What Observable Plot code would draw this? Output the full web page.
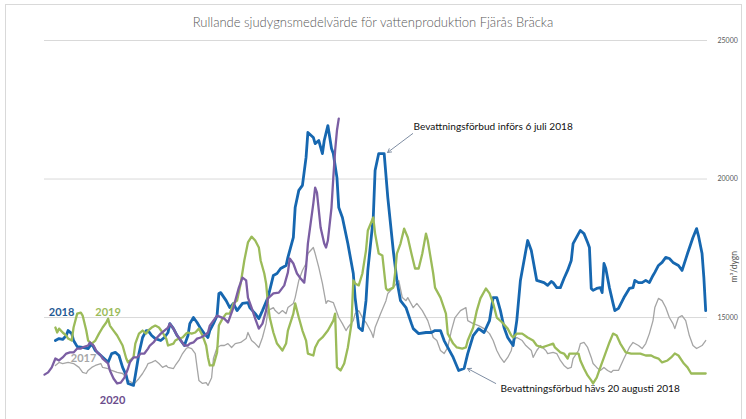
<!DOCTYPE html>
<html><head><meta charset="utf-8">
<script src="https://cdn.jsdelivr.net/npm/d3@7"></script>
<script src="https://cdn.jsdelivr.net/npm/@observablehq/plot@0.6"></script>
<style>
body{margin:0;background:#fff;font-family:Lato,"Open Sans",sans-serif;}
#wrap{position:relative;width:746px;height:419px;overflow:hidden;background:#fff;}
#frame{position:absolute;left:5px;top:4px;width:737px;height:430px;border:1px solid #d9d9d9;box-sizing:border-box;pointer-events:none;}
#title{height:30px;box-sizing:border-box;padding-top:13px;line-height:18px;font-size:13px;font-weight:300;color:#595959;text-align:center;}
</style></head><body>
<div id="wrap"><div id="title">Rullande sjudygnsmedelvärde för vattenproduktion Fjärås Bräcka</div><div id="chart"></div><div id="frame"></div></div>
<script>
// Day of year and rolling 7-day mean (m³/dygn)
const dagar2017 = [7,9,11,14,17,20,22,24,25,27,29,32,33,36,38,41,44,46,47,50,51,53,55,57,58,60,62,64,66,68,69,72,73,75,77,79,80,82,84,85,86,88,90,91,93,94,96,98,100,102,104,106,109,112,113,115,117,119,121,123,124,127,128,130,132,134,135,138,139,141,143,145,146,149,150,152,154,156,157,160,161,163,165,167,168,171,172,174,176,178,181,182,183,186,189,190,193,196,198,200,201,204,206,209,212,215,217,219,221,223,225,227,230,233,234,237,240,243,246,248,250,252,254,256,258,259,261,264,266,269,270,272,274,277,278,281,283,285,287,289,291,292,295,296,298,300,302,303,305,307,309,311,313,314,317,320,323,325,328,330,332,334,336,337,339,341,343,345,347,348,350,352,354,356,358,360,361,363,365];
const varden2017 = [13270,13380,13340,13380,13340,13200,13020,12980,13090,13200,13270,13340,13200,13160,13090,13020,12980,12830,12730,12620,12650,12800,12980,13200,13340,13380,13450,13340,13200,13270,13200,13160,13270,13450,13700,13880,13920,13880,13700,13200,12730,12620,12650,12550,12830,13520,13920,13990,13990,14060,13920,14060,14100,14240,14460,14170,14060,13920,14280,14780,15250,15360,15250,15140,15250,15140,15360,15510,15720,16340,16700,16950,17310,17530,17310,16810,16230,15510,15610,15540,15360,15000,14780,14530,14640,14890,15140,15250,15000,14820,14460,14280,14640,15140,15610,15870,16080,16340,15720,15610,15720,15360,15510,15250,14890,14280,14170,13810,13700,13920,14530,15000,15250,15360,14890,14780,14710,14600,14420,14170,13810,13560,13380,13560,13810,14170,14280,14170,13990,13810,13560,13810,13990,13810,13700,13740,13700,13450,13270,13160,13200,13520,13810,14060,14100,13920,13560,13340,13200,13090,13200,13090,13020,13090,13090,13520,13920,14100,13990,13880,14060,14420,14890,15360,15690,15610,15360,15000,14780,14600,15000,15070,14890,14350,13990,13880,13920,13990,14170];

const dagar2018 = [7,9,11,13,14,16,17,19,22,25,27,29,32,35,36,38,40,42,44,46,47,50,51,53,55,57,58,60,62,65,67,69,70,72,74,76,78,80,81,83,85,87,89,91,92,94,96,97,98,101,103,105,107,110,113,114,117,119,121,124,127,129,131,134,135,138,139,141,143,145,146,149,150,152,154,155,157,159,160,162,163,165,168,171,172,174,176,178,179,182,183,185,188,190,193,195,197,200,203,204,207,211,214,216,219,221,223,226,229,232,234,237,240,243,246,248,250,252,254,256,259,261,263,267,269,272,276,278,280,281,283,285,287,289,291,292,295,296,298,300,301,302,303,305,307,308,309,310,312,314,315,317,320,323,325,326,328,330,332,334,336,337,339,341,343,345,347,350,352,355,358,360,361,363,364,365];
const varden2018 = [14170,14240,14210,14350,14530,14420,14170,13950,13920,13880,14060,13810,13630,13450,13380,13700,13740,13630,13200,12910,12620,12550,12910,13700,14280,14530,14530,14350,14240,14170,14280,14460,14780,14600,14350,14170,13990,14350,14780,15000,14820,14600,14420,14280,14530,14780,15070,15870,15900,15610,15360,15510,15250,15510,15540,15360,15140,14960,15250,15720,16520,16590,16770,16880,17170,17890,18970,19590,19770,20780,21680,21500,21280,21390,20920,21390,21930,21100,20920,20050,18970,18610,17670,16590,15720,14640,14530,15610,16700,18610,20310,20920,20920,19330,17420,16340,15610,15360,14780,14600,14420,14460,14460,14530,14530,14170,13920,13560,13090,13160,13700,14350,14600,14460,14890,15720,15720,15250,14640,14280,13990,14890,16340,17780,17420,16340,16260,16160,16300,16260,16080,16080,16410,16700,17060,17670,18030,18140,18030,17710,17530,16050,15980,16050,16080,15900,16950,16770,16080,15510,15250,15330,15720,16050,16080,16340,16260,16260,16340,16260,16520,16630,16880,16990,17170,17130,16990,16880,16700,17310,17890,18210,17960,17310,16440,15250];

const dagar2019 = [7,8,9,11,13,14,16,17,19,21,22,24,25,27,29,31,33,35,36,37,39,41,44,46,47,50,51,53,55,57,58,60,62,64,66,68,69,72,73,75,77,79,80,82,84,86,88,90,91,92,94,96,97,99,101,103,105,107,109,111,113,115,117,119,120,122,123,124,125,127,129,132,134,135,138,139,141,143,145,146,149,150,152,154,157,160,161,162,164,166,168,170,171,172,174,176,178,179,182,183,185,187,189,190,193,194,195,197,199,201,203,205,207,209,211,212,215,216,219,222,223,226,228,231,233,234,237,239,241,244,246,248,250,253,256,258,259,261,264,267,270,272,275,278,281,282,285,287,289,290,292,295,296,298,300,302,303,305,307,309,312,314,316,318,321,324,326,329,332,335,337,339,341,344,346,348,350,353,355,357,360,362,365];
const varden2019 = [14640,14460,14600,14460,14350,14240,14170,14640,15140,15180,15070,14530,14170,14060,14170,14420,14640,14820,14960,14710,14530,14350,13990,13520,13380,13560,14060,14420,14530,14420,14530,14640,14710,14640,14460,14240,13990,14060,14170,14240,14280,14420,14460,14420,14460,14600,14350,13990,13560,13270,13270,13740,14710,14960,15140,15140,15510,15610,16230,17060,17710,17920,17780,17530,17060,16590,16230,15510,15000,14460,14060,13810,14060,14530,15140,15510,15000,14530,14170,13700,13630,13920,14170,14280,14530,14890,15140,13200,13090,13340,13920,14780,16340,16230,16160,16590,17420,18140,18610,18030,17310,17240,16050,15980,16080,16590,17310,17670,18210,17890,17310,16770,16770,17310,18030,17780,16590,16080,15720,15140,14420,14060,13920,13880,13920,14170,14640,15250,15690,16050,15870,15510,15000,14820,14600,14350,14280,14420,14420,14280,14170,13990,13920,13990,14060,13920,13740,13700,13520,13700,13700,13700,13450,13160,12910,12730,12620,12830,13200,13560,14100,14420,14350,14060,13740,13700,13700,13700,13630,13630,13560,13520,13380,13450,13560,13700,13630,13340,13200,12980,12980,12980,12980];

const dagar2020 = [1,3,5,7,9,11,13,15,17,19,21,22,25,26,28,30,32,33,36,37,39,41,43,45,47,48,50,52,54,56,58,59,61,63,65,67,69,70,72,74,76,78,80,81,83,85,87,89,91,92,94,96,100,102,105,108,110,112,113,115,117,119,121,123,124,127,130,133,135,136,138,140,142,144,145,146,149,150,151,153,155,156,157,159,160,161,162,163];
const varden2020 = [12940,13020,13200,13520,13450,13560,13700,13740,13740,13880,13880,13920,13990,14100,13990,13740,13630,13520,13340,13090,12800,12620,12650,12830,13160,13380,13560,13560,13700,13700,13880,13990,14100,14280,14420,14530,14640,14780,14600,14350,14170,13990,13990,14060,14100,14240,14280,14350,14460,14710,14890,15070,14960,14820,15360,16080,16440,16340,15720,15360,14960,14600,14780,15250,15690,15870,15900,16160,16630,17130,16950,16590,16410,16260,16810,17670,19120,19690,19510,18250,17670,17530,17780,18970,20050,21030,21750,22180];

const yTicks = [15000, 20000, 25000];
const etiketter = [
  {namn: "2018", dag: 10.4, varde: 15180, farg: "#1f5a94"},
  {namn: "2019", dag: 36, varde: 15180, farg: "#9bbb59"},
  {namn: "2020", dag: 38.5, varde: 12000, farg: "#6b4c8c"}
];
const etikett2017 = [{namn: "2017", dag: 22.5, varde: 13520, farg: "#a6a6a6"}];
const noter = [
  {text: "Bevattningsförbud införs 6 juli 2018", dag: 204.2, varde: 21895, pilX1: 203.7, pilY1: 21640, pilX2: 189.9, pilY2: 20960},
  {text: "Bevattningsförbud hävs 20 augusti 2018", dag: 252.1, varde: 12440, pilX1: 249.4, pilY1: 12620, pilX2: 233.9, pilY2: 13160}
];

const serier = [
  {dagar: dagar2017, varden: varden2017, color: "#a5a5a5", w: 1.3},
  {dagar: dagar2018, varden: varden2018, color: "#1667b0", w: 2.8},
  {dagar: dagar2019, varden: varden2019, color: "#9bbb59", w: 2.3},
  {dagar: dagar2020, varden: varden2020, color: "#7b5ea3", w: 2.3}
];

const chart = Plot.plot({
  width: 746, height: 389,
  marginLeft: 44, marginRight: 39, marginTop: 10, marginBottom: 5,
  x: {domain: [1, 366], axis: null},
  y: {domain: [11500, 25000], axis: null},
  color: {type: "identity"},
  style: {fontFamily: "Lato, 'Open Sans', sans-serif", background: "transparent", overflow: "visible"},
  marks: [
    Plot.ruleY(yTicks, {stroke: "#d9d9d9", strokeWidth: 1}),
    Plot.axisY(yTicks, {anchor: "right", tickSize: 0, tickPadding: 10, tickFormat: d => String(d), fontSize: 7, fill: "#595959", label: null}),
    Plot.text(["m³/dygn"], {frameAnchor: "right", y: [17400], dx: 27, rotate: -90, fontSize: 8.5, fill: "#595959"}),
    Plot.text(etikett2017, {x: "dag", y: "varde", text: "namn", fill: "farg", fontWeight: "bold", fontSize: 11}),
    ...serier.map(s => Plot.line(s.varden, {x: s.dagar, y: s.varden, stroke: s.color, strokeWidth: s.w, strokeLinejoin: "round"})),
    Plot.text(etiketter, {x: "dag", y: "varde", text: "namn", fill: "farg", fontWeight: "bold", fontSize: 11}),
    Plot.arrow(noter, {x1: "pilX1", y1: "pilY1", x2: "pilX2", y2: "pilY2", stroke: "#7f8ea3", strokeWidth: 1, headLength: 6}),
    Plot.text(noter, {x: "dag", y: "varde", text: "text", textAnchor: "start", fill: "#111", fontSize: 10.1})
  ]
});
document.getElementById("chart").appendChild(chart);
</script>
</body></html>
